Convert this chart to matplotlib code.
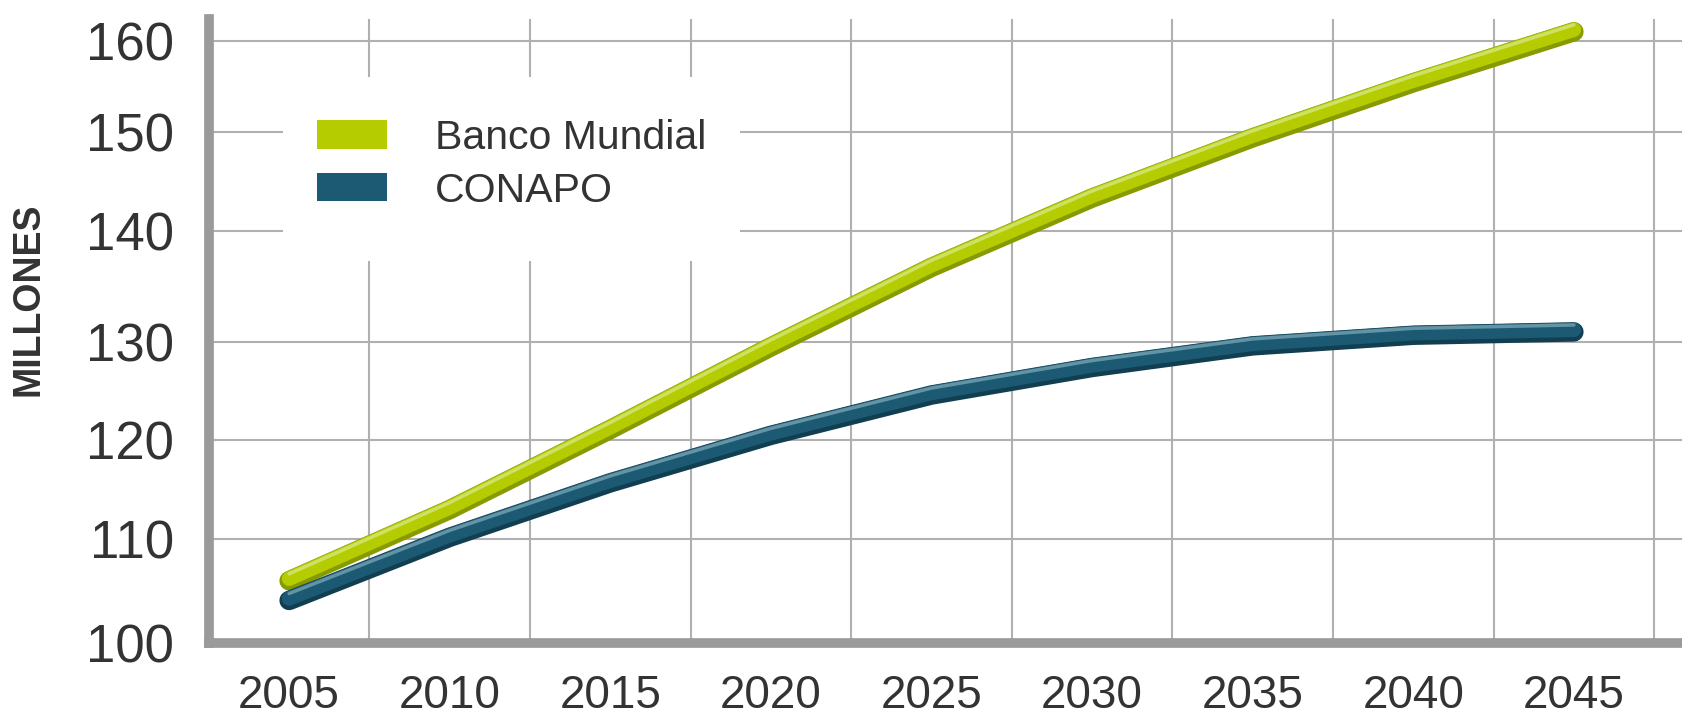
import matplotlib
matplotlib.use("Agg")
import numpy as np
import matplotlib.pyplot as plt
from matplotlib.patches import Patch, Rectangle
import matplotlib.patheffects as pe

plt.rcParams['font.family'] = ['Liberation Sans', 'DejaVu Sans']

years = [2005, 2010, 2015, 2020, 2025, 2030, 2035, 2040, 2045]
banco_mundial = [106.0, 113.0, 121.1, 129.5, 136.7, 143.3, 149.4, 155.4, 161.0]
conapo = [104.1, 110.2, 115.7, 120.5, 124.6, 127.4, 129.6, 130.6, 130.9]
y_ticks = [100, 110, 120, 130, 140, 150, 160]

# the grid of the original is not evenly spaced: pixel height of each tick above the x axis
tick_px = [0, 103.7, 202.7, 301, 412.3, 511, 602]
scale_vals = [90] + y_ticks + [170]
scale_px = [-103.7] + tick_px + [693]

green = '#b4cc00'
green_dark = '#879a00'
green_light = '#cfe163'
blue = '#1c5a73'
blue_dark = '#113e50'
blue_light = '#6394a6'
gray = '#9a9a9a'
grid = '#b0b0b0'
text_col = '#333333'


def fwd(v):
    return np.interp(v, scale_vals, scale_px)


def inv(p):
    return np.interp(p, scale_px, scale_vals)


def shaded(main, dark, light):
    return [pe.Stroke(linewidth=14, foreground=dark),
            pe.Stroke(linewidth=10.5, foreground=main, offset=(0, 1.5)),
            pe.Stroke(linewidth=2.5, foreground=light, offset=(0, 5))]


fig = plt.figure(figsize=(16.83, 7.2), dpi=100)
ax = fig.add_axes([208.8 / 1683, 1 - 643 / 720, 1 - 208.8 / 1683, (643 - 19) / 720])
ax.set_yscale('function', functions=(fwd, inv))

ax.plot(years, banco_mundial, color=green, lw=14, solid_capstyle='round',
        solid_joinstyle='round', path_effects=shaded(green, green_dark, green_light), zorder=4)
ax.plot(years, conapo, color=blue, lw=14, solid_capstyle='round',
        solid_joinstyle='round', path_effects=shaded(blue, blue_dark, blue_light), zorder=5)

ax.set_xlim(2002.5, 2002.5 + 1474.2 / 32.12)
ax.set_ylim(100, 162.4)
ax.set_xticks(years)
ax.set_xticks([y + 2.5 for y in years], minor=True)
ax.set_yticks(y_ticks)
ax.set_yticks([], minor=True)
ax.set_yticklabels([str(t) for t in y_ticks])
ax.grid(True, which='minor', axis='x', color=grid, lw=1.5)
ax.grid(True, which='major', axis='y', color=grid, lw=1.5)
ax.set_axisbelow(True)

for s in ['top', 'right']:
    ax.spines[s].set_visible(False)
for s in ['left', 'bottom']:
    ax.spines[s].set_color(gray)
    ax.spines[s].set_linewidth(7)
    ax.spines[s].set_capstyle('projecting')
    ax.spines[s].set_zorder(6)

ax.tick_params(axis='both', which='both', length=0)
ax.tick_params(axis='x', labelsize=33, pad=22, labelcolor=text_col)
ax.tick_params(axis='y', labelsize=38, pad=25, labelcolor=text_col)

fig.text(29 / 1683, 1 - 299 / 720, 'MILLONES', rotation=90, fontsize=27,
         fontweight='bold', color=text_col, ha='center', va='center')

# white box behind the legend, hides the grid
ax.add_patch(Rectangle((0.0503, 0.612), 0.31, 0.295, transform=ax.transAxes,
                       facecolor='white', edgecolor='none', zorder=3))
handles = [Patch(facecolor=green, edgecolor='none', label='Banco Mundial'),
           Patch(facecolor=blue, edgecolor='none', label='CONAPO')]
leg = ax.legend(handles=handles, loc='upper left', bbox_to_anchor=(0.0734, 0.84),
                frameon=False, fontsize=29.5, handlelength=1.71, handleheight=0.68,
                handletextpad=1.17, labelspacing=0.36, borderpad=0, borderaxespad=0)
for t in leg.get_texts():
    t.set_color(text_col)
leg.set_zorder(7)

fig.savefig('out.png', dpi=100)
